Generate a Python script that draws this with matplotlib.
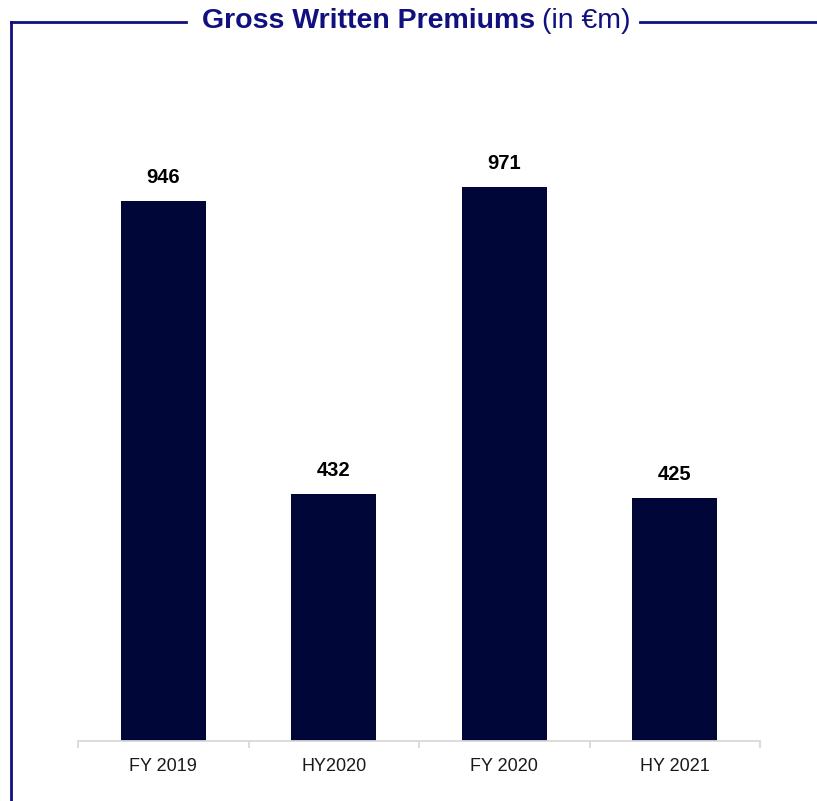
import matplotlib
matplotlib.use("Agg")
import matplotlib.pyplot as plt
from matplotlib.lines import Line2D
import numpy as np

plt.rcParams["font.family"] = ["Liberation Sans", "DejaVu Sans"]

periods = ["FY 2019", "HY2020", "FY 2020", "HY 2021"]
gwp = [946, 432, 971, 425]

BAR = "#000638"
NAVY = "#10107f"
GRID = "#d9d9d9"

W, H = 817, 801
fig = plt.figure(figsize=(W / 100, H / 100), dpi=100)
ax = fig.add_axes([78 / W, 1 - 741 / H, 682 / W, 685 / H])

x = np.arange(len(periods))
ax.bar(x, gwp, width=0.5, color=BAR, zorder=2)
for xi, v in zip(x, gwp):
    ax.annotate(f"{v}", (xi, v), xytext=(0, 13), textcoords="offset points",
                ha="center", va="baseline", fontsize=14.5, fontweight="bold", color="black")

ax.set_xlim(-0.5, len(periods) - 0.5)
ax.set_ylim(0, 1200)
ax.set_yticks([])
for s in ("top", "right", "left"):
    ax.spines[s].set_visible(False)
ax.spines["bottom"].set_color(GRID)
ax.spines["bottom"].set_linewidth(1.3)

# boundary ticks between categories, labels at centres
ax.set_xticks(np.arange(-0.5, len(periods), 1.0))
ax.set_xticklabels([])
ax.tick_params(axis="x", which="major", length=5, width=1.3, color=GRID)
ax.set_xticks(x, minor=True)
ax.set_xticklabels(periods, minor=True, fontsize=13, color="#1a1a1a")
ax.tick_params(axis="x", which="minor", length=0, pad=12)

# frame around the chart with title breaking the top line
ytop = 1 - 22 / H
fig.add_artist(Line2D([11 / W, 11 / W], [0, ytop], color=NAVY, lw=2,
                      transform=fig.transFigure))
fig.add_artist(Line2D([11 / W, 186 / W], [ytop] * 2, color=NAVY, lw=2,
                      transform=fig.transFigure))
fig.add_artist(Line2D([640 / W, 1], [ytop] * 2, color=NAVY, lw=2,
                      transform=fig.transFigure))

yt = 1 - 21 / H
t1 = fig.text(0, yt, "Gross Written Premiums", fontsize=20.5,
              fontweight="bold", color=NAVY, ha="left", va="center")
t2 = fig.text(0, yt, "(in €m)", fontsize=20.5, color=NAVY, ha="left", va="center")
fig.canvas.draw()
w1 = t1.get_window_extent().width
w2 = t2.get_window_extent().width
gap = 7
x0 = 416 - (w1 + gap + w2) / 2
t1.set_x(x0 / W)
t2.set_x((x0 + w1 + gap) / W)

fig.savefig("out.png", dpi=100)
